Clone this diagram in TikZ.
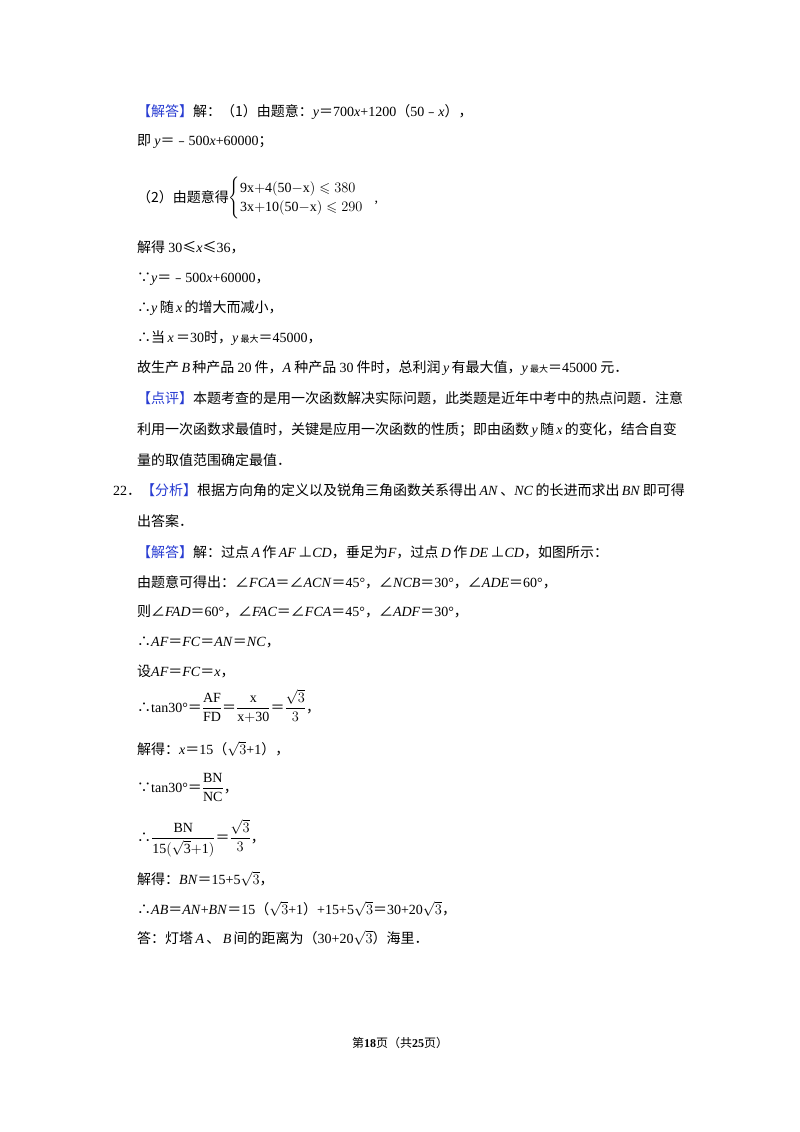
\documentclass[tikz,border=0pt]{standalone}
\usepackage{amsmath,amssymb}
\usepackage{fontspec}
\setmainfont{Liberation Serif}
\newfontfamily\cjk{Noto Sans CJK SC}
\newcommand\z[1]{{\cjk #1}}
\newcommand\vi[1]{\,\textit{#1}\,}
\definecolor{bl}{RGB}{40,60,210}
\newcommand\btag[1]{{\color{bl}\z{【#1】}}}
\begin{document}
\begin{tikzpicture}[x=1pt,y=1pt,
  ln/.style={anchor=base west,inner sep=0pt,font=\fontsize{14}{16}\selectfont}]
\useasboundingbox[fill=white] (0,0) rectangle (800,-1132);
\node[ln] (l1) at (137,-116) {\btag{解答}\z{解：（1）由题意：}\textit{y}\z{＝}700\textit{x}+1200\z{（}50\z{﹣}\textit{x}\z{），}};
\node[ln] (l2) at (137,-145) {\z{即 }\textit{y}\z{＝﹣}500\textit{x}+60000\z{；}};
\node[ln] (l3) at (137,-202) {\z{（2）由题意得}$\begin{cases}\mathrm{9x{+}4(50{-}x)}\leqslant 380\\ \mathrm{3x{+}10(50{-}x)}\leqslant 290\end{cases}$\hspace{-3pt},};
\node[ln] (l4) at (137,-252) {\z{解得 }30\z{≤}\textit{x}\z{≤}36\z{，}};
\node[ln] (l5) at (137,-282) {\z{∵}\textit{y}\z{＝﹣}500\textit{x}+60000\z{，}};
\node[ln] (l6) at (137,-312) {\z{∴}\textit{y}\,\z{随}\vi{x}\z{的增大而减小，}};
\node[ln] (l7) at (137,-342) {\z{∴当}\vi{x}\z{＝}30\z{时，}\textit{y}\,{\fontsize{9}{10}\selectfont\z{最大}}\z{＝}45000\z{，}};
\node[ln] (l8) at (137,-372) {\z{故生产}\vi{B}\z{种产品 }20\z{ 件，}\textit{A}\z{ 种产品 }30\z{ 件时，总利润}\vi{y}\z{有最大值，}\textit{y}\,{\fontsize{9}{10}\selectfont\z{最大}}\z{＝}45000\z{ 元．}};
\node[ln] (l9) at (137,-403) {\btag{点评}\z{本题考查的是用一次函数解决实际问题，此类题是近年中考中的热点问题．注意}};
\node[ln] (l10) at (137,-434) {\z{利用一次函数求最值时，关键是应用一次函数的性质；即由函数}\vi{y}\z{随}\vi{x}\z{的变化，结合自变}};
\node[ln] (l11) at (137,-465) {\z{量的取值范围确定最值．}};
\node[ln] (l12) at (113,-495) {22\z{．}\btag{分析}\z{根据方向角的定义以及锐角三角函数关系得出}\vi{AN}\z{、}\textit{NC}\,\z{的长进而求出}\vi{BN}\z{即可得}};
\node[ln] (l13) at (137,-526) {\z{出答案．}};
\node[ln] (l14) at (137,-557) {\btag{解答}\z{解：过点}\vi{A}\z{作}\vi{AF}\z{⊥}\textit{CD}\z{，垂足为}\textit{F}\z{，过点}\vi{D}\z{作}\vi{DE}\z{⊥}\textit{CD}\z{，如图所示：}};
\node[ln] (l15) at (137,-587) {\z{由题意可得出：∠}\textit{FCA}\z{＝∠}\textit{ACN}\z{＝}45°\z{，∠}\textit{NCB}\z{＝}30°\z{，∠}\textit{ADE}\z{＝}60°\z{，}};
\node[ln] (l16) at (137,-616) {\z{则∠}\textit{FAD}\z{＝}60°\z{，∠}\textit{FAC}\z{＝∠}\textit{FCA}\z{＝}45°\z{，∠}\textit{ADF}\z{＝}30°\z{，}};
\node[ln] (l17) at (137,-646) {\z{∴}\textit{AF}\z{＝}\textit{FC}\z{＝}\textit{AN}\z{＝}\textit{NC}\z{，}};
\node[ln] (l18) at (137,-676) {\z{设}\textit{AF}\z{＝}\textit{FC}\z{＝}\textit{x}\z{，}};
\node[ln] (l19) at (137,-712) {\z{∴}tan30°\z{＝}$\dfrac{\mathrm{AF}}{\mathrm{FD}}$\z{＝}$\dfrac{\mathrm{x}}{\mathrm{x{+}30}}$\z{＝}$\dfrac{\sqrt{3}}{3}$\z{，}};
\node[ln] (l20) at (137,-754) {\z{解得：}\textit{x}\z{＝}15\z{（}$\sqrt{3}$+1\z{），}};
\node[ln] (l21) at (137,-792) {\z{∵}tan30°\z{＝}$\dfrac{\mathrm{BN}}{\mathrm{NC}}$\z{，}};
\node[ln] (l22) at (137,-842) {\z{∴}$\dfrac{\mathrm{BN}}{\mathrm{15(\sqrt{3}{+}1)}}$\z{＝}$\dfrac{\sqrt{3}}{3}$\z{，}};
\node[ln] (l23) at (137,-884) {\z{解得：}\textit{BN}\z{＝}15+5$\sqrt{3}$\z{，}};
\node[ln] (l24) at (137,-914) {\z{∴}\textit{AB}\z{＝}\textit{AN}+\textit{BN}\z{＝}15\z{（}$\sqrt{3}$+1\z{）}+15+5$\sqrt{3}$\z{＝}30+20$\sqrt{3}$\z{，}};
\node[ln] (l25) at (137,-943) {\z{答：灯塔}\vi{A}\z{、}\vi{B}\z{间的距离为（}30+20$\sqrt{3}$\z{）海里．}};
\node[anchor=base,inner sep=0pt,font=\fontsize{12}{14}\selectfont] (ft) at (400,-1047) {\z{第}\textbf{18}\z{页（共}\textbf{25}\z{页）}};
\end{tikzpicture}
\end{document}
